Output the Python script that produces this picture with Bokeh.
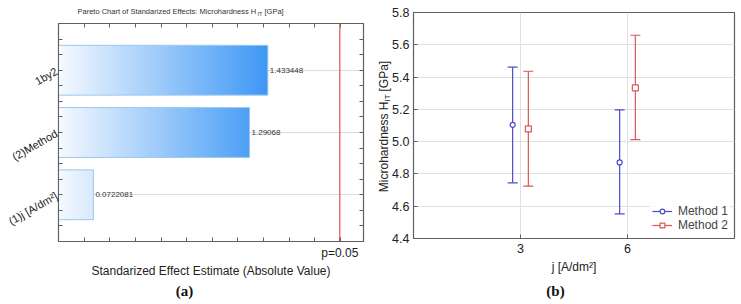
import numpy as np
from bokeh.plotting import figure
from bokeh.layouts import row
from bokeh.models import (Range1d, FixedTicker, LinearAxis, Span, Label,
                          ColumnDataSource, Legend, LegendItem)
from bokeh.embed import file_html
from bokeh.resources import INLINE

# ---------------- data ----------------
effects = ["(1)j [A/dm²]", "(2)Method", "1by2"]
effect_values = [0.0722081, 1.29068, 1.433448]
effect_texts = ["0.0722081", "1.29068", "1.433448"]
p_crit = 1.995
p_label = "p=0.05"

j_values = [3, 6]
j_labels = ["3", "6"]
m1_mean = [5.104, 4.871]
m1_low = [4.745, 4.553]
m1_high = [5.461, 5.197]
m2_mean = [5.079, 5.333]
m2_low = [4.724, 5.013]
m2_high = [5.436, 5.659]
methods = ["Method 1", "Method 2"]
y_ticks = [4.4, 4.6, 4.8, 5.0, 5.2, 5.4, 5.6, 5.8]

FONT = "Liberation Sans"
AX = "#606060"
NB = "\u00a0"


def lab(p, side, x, y, text, size, align="left", angle=0.0, font=FONT, style="normal",
        color="#333333"):
    # canvas-unit label hosted in a side panel (not clipped to the frame)
    p.add_layout(Label(x=x, y=y, x_units="canvas", y_units="canvas", text=text, angle=angle,
                       text_align=align, text_baseline="middle", text_font=font,
                       text_font_style=style, text_font_size=size, text_color=color), side)


# ---------------- left: Pareto chart ----------------
x0 = -0.2
p1 = figure(width=370, height=304, x_range=Range1d(x0, 2.18), y_range=Range1d(-0.75, 2.75),
            output_backend="svg", toolbar_location=None, frame_align=False,
            min_border_left=57, min_border_right=7, min_border_top=23, min_border_bottom=63)
p1.outline_line_color = AX
p1.outline_line_width = 1.2
p1.xgrid.visible = False
p1.ygrid.grid_line_color = "#dcdcdc"

idx = list(range(len(effects)))
minor_y = [k * 0.25 - 0.75 for k in range(15) if (k * 0.25 - 0.75) % 1 != 0]
yt = FixedTicker(ticks=idx, minor_ticks=minor_y)
p1.yaxis.ticker = yt
p1.yaxis.major_label_overrides = {i: e for i, e in zip(idx, effects)}
p1.yaxis.major_label_orientation = np.pi / 6
p1.yaxis.major_label_text_font = FONT
p1.yaxis.major_label_text_font_size = "11px"
p1.yaxis.major_label_text_color = "#222222"
p1.yaxis.major_label_standoff = 2
p1.ygrid.ticker = yt

x_minor = [round(-0.2 + 0.2 * k, 2) for k in range(13)]
xt = FixedTicker(ticks=[p_crit], minor_ticks=x_minor)
p1.xaxis.ticker = xt
p1.xaxis.major_label_overrides = {p_crit: p_label}
p1.xaxis.major_label_text_font = FONT
p1.xaxis.major_label_text_font_size = "12px"
p1.xaxis.major_label_text_color = "#222222"
p1.xaxis.major_label_standoff = 4
p1.xaxis.axis_label = "Standarized Effect Estimate (Absolute Value)"
p1.xaxis.axis_label_text_font = FONT
p1.xaxis.axis_label_text_font_style = "normal"
p1.xaxis.axis_label_text_font_size = "12px"
p1.xaxis.axis_label_text_color = "#222222"
p1.xaxis.axis_label_standoff = 1
for ax in (p1.xaxis[0], p1.yaxis[0]):
    ax.axis_line_color = AX
    ax.major_tick_line_color = AX
    ax.minor_tick_line_color = AX
    ax.major_tick_in = 4
    ax.major_tick_out = 0
    ax.minor_tick_in = 4
    ax.minor_tick_out = 0

top = LinearAxis(ticker=FixedTicker(ticks=[], minor_ticks=x_minor), axis_line_color=AX,
                 major_tick_in=4, major_tick_out=0, minor_tick_in=4, minor_tick_out=0,
                 major_label_standoff=0, major_tick_line_color=AX, minor_tick_line_color=AX)
p1.add_layout(top, "above")
right = LinearAxis(ticker=FixedTicker(ticks=[], minor_ticks=minor_y + idx), axis_line_color=AX,
                   major_tick_in=4, major_tick_out=0, minor_tick_in=4, minor_tick_out=0,
                   major_label_standoff=0, major_tick_line_color=AX, minor_tick_line_color=AX)
p1.add_layout(right, "right")

# gradient bars
c_start = np.array([246, 250, 255])
c_end = np.array([62, 152, 245])
g_end = max(effect_values)
N = 200
for i, v in zip(idx, effect_values):
    xs = np.linspace(x0, v, N)
    t = np.clip((xs - x0) / (g_end - x0), 0, 1)[:, None]
    rgb = (c_start * (1 - t) + c_end * t).astype(np.uint32)
    img = np.empty((1, N), dtype=np.uint32)
    view = img.view(dtype=np.uint8).reshape((1, N, 4))
    view[0, :, 0] = rgb[:, 0]
    view[0, :, 1] = rgb[:, 1]
    view[0, :, 2] = rgb[:, 2]
    view[0, :, 3] = 255
    p1.image_rgba(image=[img], x=x0, y=i - 0.4, dw=v - x0, dh=0.8)

src1 = ColumnDataSource(dict(y=idx, v=effect_values, t=effect_texts))
p1.hbar(y="y", left=x0, right="v", height=0.8, source=src1, fill_alpha=0,
        line_color="#9cc6f0", line_width=1)
p1.text(x="v", y="y", text="t", source=src1, x_offset=2, text_baseline="middle",
        text_font_size="8px", text_color="#333333", text_font={"value": FONT})
p1.add_layout(Span(location=p_crit, dimension="height", line_color="#d9534f", line_width=1.2))

# title (with subscript) and panel letter
lab(p1, "above", 77, 11, "Pareto Chart of Standarized Effects: Microhardness H" + NB * 4 + "[GPa]",
    "7.5px")
lab(p1, "above", 257, 13, "IT", "5.5px")
lab(p1, "below", 184, 290, "(a)", "15px", align="center", font="Liberation Serif",
    style="bold", color="#111111")

# ---------------- right: error bars ----------------
p2 = figure(width=371, height=304, x_range=Range1d(0, 9), y_range=Range1d(4.4, 5.8),
            output_backend="svg", toolbar_location=None, frame_align=False,
            min_border_left=43, min_border_right=7, min_border_top=12, min_border_bottom=66)
p2.outline_line_color = AX
p2.outline_line_width = 1.2
p2.xaxis.ticker = FixedTicker(ticks=j_values)
p2.xaxis.major_label_overrides = {j: l for j, l in zip(j_values, j_labels)}
p2.yaxis.ticker = FixedTicker(ticks=y_ticks)
p2.yaxis.major_label_overrides = {t: f"{t:.1f}" for t in y_ticks}
p2.grid.grid_line_color = "#e0e0e0"
for ax in (p2.xaxis[0], p2.yaxis[0]):
    ax.axis_line_color = AX
    ax.major_tick_line_color = AX
    ax.major_tick_in = 4
    ax.major_tick_out = 0
    ax.minor_tick_line_color = None
    ax.major_label_text_font = FONT
    ax.major_label_text_font_size = "12.5px"
    ax.major_label_text_color = "#222222"
p2.xaxis.major_label_standoff = 5
p2.yaxis.major_label_standoff = 4
p2.xaxis.axis_label = "j [A/dm²]"
p2.xaxis.axis_label_text_font = FONT
p2.xaxis.axis_label_text_font_style = "normal"
p2.xaxis.axis_label_text_font_size = "12px"
p2.xaxis.axis_label_text_color = "#222222"
p2.xaxis.axis_label_standoff = 4

offset = 0.22
cap = 0.14
series = [(m1_mean, m1_low, m1_high, -offset, "#4a4ad0", "circle", 5),
          (m2_mean, m2_low, m2_high, offset, "#d95757", "square", 6)]
items = []
for (mean, lo, hi, off, col, mk, sz), name in zip(series, methods):
    xs = [j + off for j in j_values]
    s = ColumnDataSource(dict(x=xs, m=mean, lo=lo, hi=hi,
                              xl=[x - cap for x in xs], xr=[x + cap for x in xs]))
    seg = p2.segment(x0="x", y0="lo", x1="x", y1="hi", source=s, line_color=col, line_width=1.2)
    p2.segment(x0="xl", y0="hi", x1="xr", y1="hi", source=s, line_color=col, line_width=1.2)
    p2.segment(x0="xl", y0="lo", x1="xr", y1="lo", source=s, line_color=col, line_width=1.2)
    sc = p2.scatter(x="x", y="m", source=s, marker=mk, size=sz, fill_color="white",
                    line_color=col, line_width=1.2)
    items.append(LegendItem(label=name, renderers=[seg, sc]))

leg = Legend(items=items, location="bottom_right", border_line_alpha=0,
             background_fill_alpha=0.9, label_text_font=FONT, label_text_font_size="12px",
             glyph_width=20, glyph_height=12, spacing=0, padding=2, margin=4,
             label_standoff=6, label_height=12)
p2.add_layout(leg)

# y label (with subscript) and panel letter
lab(p2, "left", 13, 126, "Microhardness H" + NB * 3 + "[GPa]", "12px", align="center",
    angle=np.pi / 2, color="#222222")
lab(p2, "above", 16.5, 101, "IT", "8px", angle=np.pi / 2, color="#222222")
lab(p2, "below", 185, 290, "(b)", "15px", align="center", font="Liberation Serif",
    style="bold", color="#111111")

layout = row(p1, p2)
open("out.html", "w").write(file_html(layout, INLINE))
